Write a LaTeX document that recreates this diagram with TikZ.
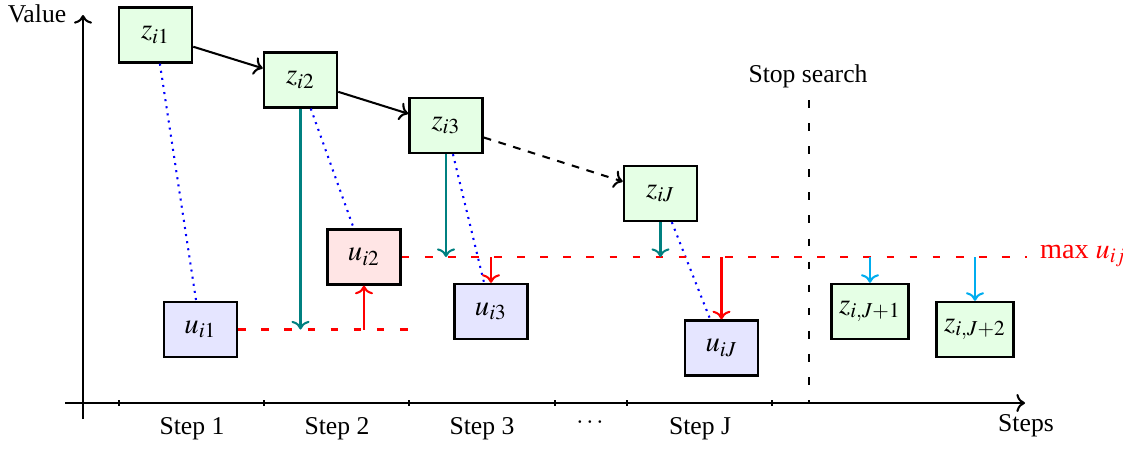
\documentclass[tikz,border=0pt]{standalone}
\usepackage{mathptmx}
\usepackage{fontspec}
\setmainfont{Liberation Serif}
\usetikzlibrary{arrows.meta}
\tikzset{
  zbox/.style={draw, line width=1pt, fill=green!10, minimum width=1cm, minimum height=0.75cm, inner sep=3pt, font=\fontsize{11.2}{13}\selectfont},
  ubox/.style={zbox, fill=blue!10},
  umax/.style={zbox, fill=red!10},
  link/.style={blue, dotted, thick},
  flow/.style={->, thick},
  level/.style={red, loosely dashed, thick},
  down/.style={->, thick, teal},
  redarr/.style={->, thick, red},
  cyanarr/.style={->, thick, cyan},
  axis/.style={->, thick},
  tick/.style={thick},
  lbl/.style={inner sep=0pt}
}
\begin{document}
\begin{tikzpicture}[x=0.0137cm, y=-0.0137cm]
\useasboundingbox (0,0) rectangle (1123,448);
% axes
\coordinate (xa0) at (65,403);
\coordinate (xa1) at (1025,403);
\coordinate (ya0) at (83,419);
\coordinate (ya1) at (83,15);
\draw[axis] (xa0) -- (xa1);
\draw[axis] (ya0) -- (ya1);
\foreach \t in {119,264,409,555,627,772} {
  \draw[tick] (\t,400) -- (\t,406);
}
\node[lbl] (value) at (37,14) {Value};
\node[lbl] (steps) at (1026,426) {Steps};
\node[lbl] (s1) at (192,429) {Step 1};
\node[lbl] (s2) at (337,429) {Step 2};
\node[lbl] (s3) at (482,429) {Step 3};
\node[lbl] (sd) at (590,423) {$\cdots$};
\node[lbl] (sJ) at (700,429) {Step J};
% stop search
\node[lbl] (stop) at (808,76) {Stop search};
\coordinate (st0) at (809,100);
\coordinate (st1) at (809,403);
\draw[loosely dashed, thick] (st0) -- (st1);
% boxes
\node[zbox] (z1) at (155.5,35) {$z_{i1}$};
\node[zbox] (z2) at (300.5,80) {$z_{i2}$};
\node[zbox] (z3) at (446,125.5) {$z_{i3}$};
\node[zbox] (zJ) at (660.5,193.5) {$z_{iJ}$};
\node[ubox] (u1) at (200.5,329.5) {$u_{i1}$};
\node[umax] (u2) at (364,257) {$u_{i2}$};
\node[ubox] (u3) at (491,311.5) {$u_{i3}$};
\node[ubox] (uJ) at (721.5,348) {$u_{iJ}$};
\node[zbox] (zJ1) at (870,311.5) {$z_{i,J+1}$};
\node[zbox] (zJ2) at (975,329.5) {$z_{i,J+2}$};
% chain
\draw[flow] (z1) -- (z2);
\draw[flow] (z2) -- (z3);
\draw[flow, dashed] (z3) -- (zJ);
% dotted links
\draw[link] (z1) -- (u1);
\draw[link] (z2) -- (u2);
\draw[link] (z3) -- (u3);
\draw[link] (zJ) -- (uJ);
% levels
\coordinate (lowend) at (410,329.5);
\coordinate (highend) at (1027,257);
\draw[level] (u1.east) -- (lowend);
\draw[level] (u2.east) -- (highend);
\node[red, anchor=base west, font=\fontsize{11}{13}\selectfont] (maxl) at (1031,258) {max $u_{ij}$};
% arrows
\draw[down] (z2.south) -- (z2.south |- lowend);
\draw[redarr] (u2.south |- lowend) -- (u2.south);
\draw[down] (z3.south) -- (z3.south |- highend);
\draw[redarr] (u3.north |- highend) -- (u3.north);
\draw[down] (zJ.south) -- (zJ.south |- highend);
\draw[redarr] (uJ.north |- highend) -- (uJ.north);
\draw[cyanarr] (zJ1.north |- highend) -- (zJ1.north);
\draw[cyanarr] (zJ2.north |- highend) -- (zJ2.north);
\end{tikzpicture}
\end{document}
